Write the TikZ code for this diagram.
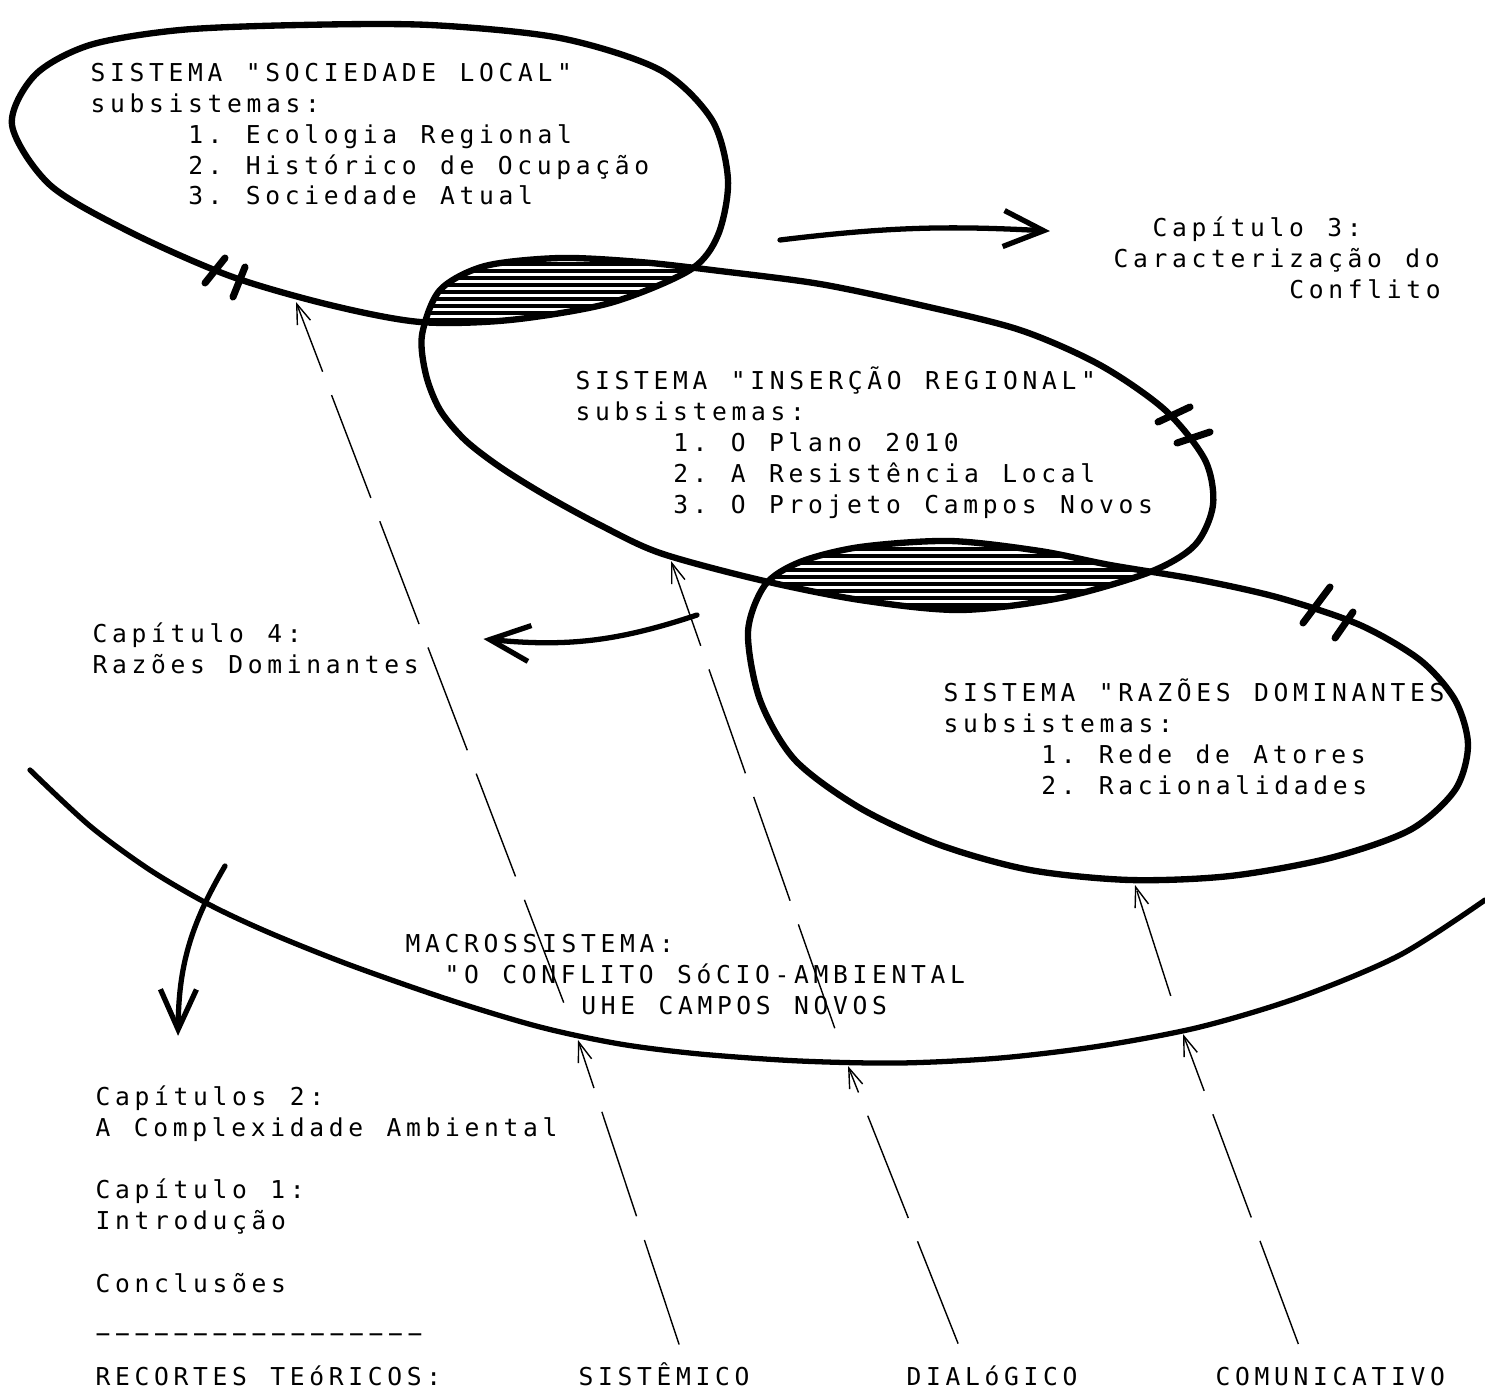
\documentclass[tikz,border=0pt]{standalone}
\usepackage{fontspec}
\newfontfamily\plotter[LetterSpace=19, WordSpace=1.2]{DejaVu Sans Mono}
\usetikzlibrary{arrows.meta,calc}

\newlength\chw
\setlength\chw{0.195cm}
\newcommand\ind[1]{\hspace*{#1\chw}}
\newcommand\plotfont{\plotter\fontsize{7pt}{8.75pt}\selectfont\frenchspacing}

% hand drawn outlines of the systems
\def\pathSoc{plot[smooth cycle] coordinates {(12,125) (35,75) (90,45) (180,30) (300,25) (430,25) (560,38) (660,70) (712,120) (728,180) (718,235) (690,270) (610,303) (510,320) (420,322) (330,305) (230,276) (130,232) (50,185)}}
\def\pathIns{plot[smooth cycle] coordinates {(422,335) (440,290) (485,266) (560,258) (640,262) (720,271) (820,284) (920,305) (1020,330) (1100,365) (1165,410) (1205,460) (1213,505) (1195,545) (1150,572) (1060,598) (960,610) (860,600) (760,580) (660,553) (600,525) (545,495) (500,467) (465,440) (440,410) (426,375)}}
\def\pathRaz{plot[smooth cycle] coordinates {(748,632) (765,585) (800,562) (860,547) (950,541) (1040,551) (1110,565) (1200,580) (1280,598) (1360,625) (1420,660) (1455,700) (1468,745) (1455,790) (1410,830) (1330,858) (1230,876) (1130,880) (1030,870) (940,845) (860,808) (795,760) (760,700)}}
\def\pathMacro{plot[smooth] coordinates {(30,770) (90,826) (150,870) (210,905) (270,933) (350,965) (450,1000) (540,1027) (620,1044) (700,1054) (800,1061) (900,1063) (1000,1058) (1100,1046) (1200,1027) (1300,997) (1400,955) (1485,900)}}

\begin{document}
\begin{tikzpicture}[
  x=0.01cm, y=-0.01cm,
  outline/.style={line width=1.8pt, line cap=round, line join=round},
  hatch/.style={line width=0.9pt},
  tickmark/.style={line width=2pt, line cap=round},
  bigarrow/.style={line width=1.5pt, line cap=round,
                   -{Straight Barb[length=4mm, width=3.6mm]}},
  thinarrow/.style={line width=0.4pt, dash pattern=on 1.1cm off 0.25cm,
                    -{Straight Barb[length=2mm, width=1.4mm]}},
  txt/.style={font=\plotfont, align=left, anchor=base west, inner sep=0pt}
]
  \useasboundingbox (0,0) rectangle (1485,1388);

  % hatched overlaps
  \begin{scope}
    \clip \pathSoc;
    \clip \pathIns;
    \foreach \y in {250,257,...,330}
      \draw[hatch] (400,\y) -- (760,\y);
  \end{scope}
  \begin{scope}
    \clip \pathIns;
    \clip \pathRaz;
    \foreach \y in {535,542,...,620}
      \draw[hatch] (740,\y) -- (1170,\y);
  \end{scope}

  \draw[outline] \pathSoc;
  \draw[outline] \pathIns;
  \draw[outline] \pathRaz;
  \draw[outline, line width=1.5pt] \pathMacro;

  % double strokes across the outlines
  \draw[tickmark] (225,258) -- (205,283) (245,267) -- (233,297);
  \draw[tickmark] (1158,422) -- (1190,407) (1177,443) -- (1210,432);
  \draw[tickmark] (1330,587) -- (1303,623) (1353,612) -- (1335,638);

  % multi-line texts sit on the baseline of their last line
  \node[txt] (soclocal) at (90,205)
    {SISTEMA "SOCIEDADE LOCAL"\\subsistemas:\\\ind{5}1. Ecologia Regional\\\ind{5}2. Histórico de Ocupação\\\ind{5}3. Sociedade Atual};
  \node[txt] (cap3) at (1113,298)
    {\ind{2}Capítulo 3:\\Caracterização do\\\ind{9}Conflito};
  \node[txt] (insercao) at (575,513)
    {SISTEMA "INSERÇÃO REGIONAL"\\subsistemas:\\\ind{5}1. O Plano 2010\\\ind{5}2. A Resistência Local\\\ind{5}3. O Projeto Campos Novos};
  \node[txt] (cap4) at (92,673) {Capítulo 4:\\Razões Dominantes};
  \node[txt] (razoes) at (943,794)
    {SISTEMA "RAZÕES DOMINANTES\\subsistemas:\\\ind{5}1. Rede de Atores\\\ind{5}2. Racionalidades};
  \node[txt] (macro) at (405,1014)
    {MACROSSISTEMA:\\\ind{2}"O CONFLITO SóCIO-AMBIENTAL\\\ind{9}UHE CAMPOS NOVOS};
  \node[txt] (cap2) at (95,1136) {Capítulos 2:\\A Complexidade Ambiental};
  \node[txt] (cap1) at (95,1229) {Capítulo 1:\\Introdução};
  \node[txt] (concl) at (95,1292) {Conclusões};
  \node[txt] (rule) at (95,1342) {−−−−−−−−−−−−−−−−−};
  \node[txt] (recortes) at (95,1385) {RECORTES TEóRICOS:};
  \node[txt] (sistemico) at (578,1385) {SISTÊMICO};
  \node[txt] (dialogico) at (906,1385) {DIALóGICO};
  \node[txt] (comunicativo) at (1215,1385) {COMUNICATIVO};

  % thick arrows to the chapters
  \coordinate (fromSI) at (780,240);
  \coordinate (fromIR) at (697,615);
  \coordinate (fromMacro) at (225,866);
  \draw[bigarrow] (fromSI) to[bend left=5] ([xshift=-6.3mm,yshift=-1.5mm]cap3.north west);
  \draw[bigarrow] (fromIR) to[bend left=12] ([xshift=6.4mm,yshift=0.9mm]cap4.east);
  \draw[bigarrow] (fromMacro) to[bend right=15] ([xshift=8.3mm,yshift=4.9mm]cap2.north west);

  % theoretical cuts
  \coordinate (m1) at (578,1040);
  \coordinate (m2) at (848,1066);
  \coordinate (m3) at (1183,1034);
  \coordinate (u1) at (296,302);
  \coordinate (u2) at (671,561);
  \coordinate (u3) at (1135,885);
  \draw[thinarrow] ($(sistemico.north)+(15,-17)$) -- (m1);
  \draw[thinarrow, shorten <=4mm] (m1) -- (u1);
  \draw[thinarrow] ($(dialogico.north)+(-34,-21)$) -- (m2);
  \draw[thinarrow, shorten <=4mm] (m2) -- (u2);
  \draw[thinarrow] ($(comunicativo.north)+(-32,-22)$) -- (m3);
  \draw[thinarrow, shorten <=4mm] (m3) -- (u3);
\end{tikzpicture}
\end{document}
